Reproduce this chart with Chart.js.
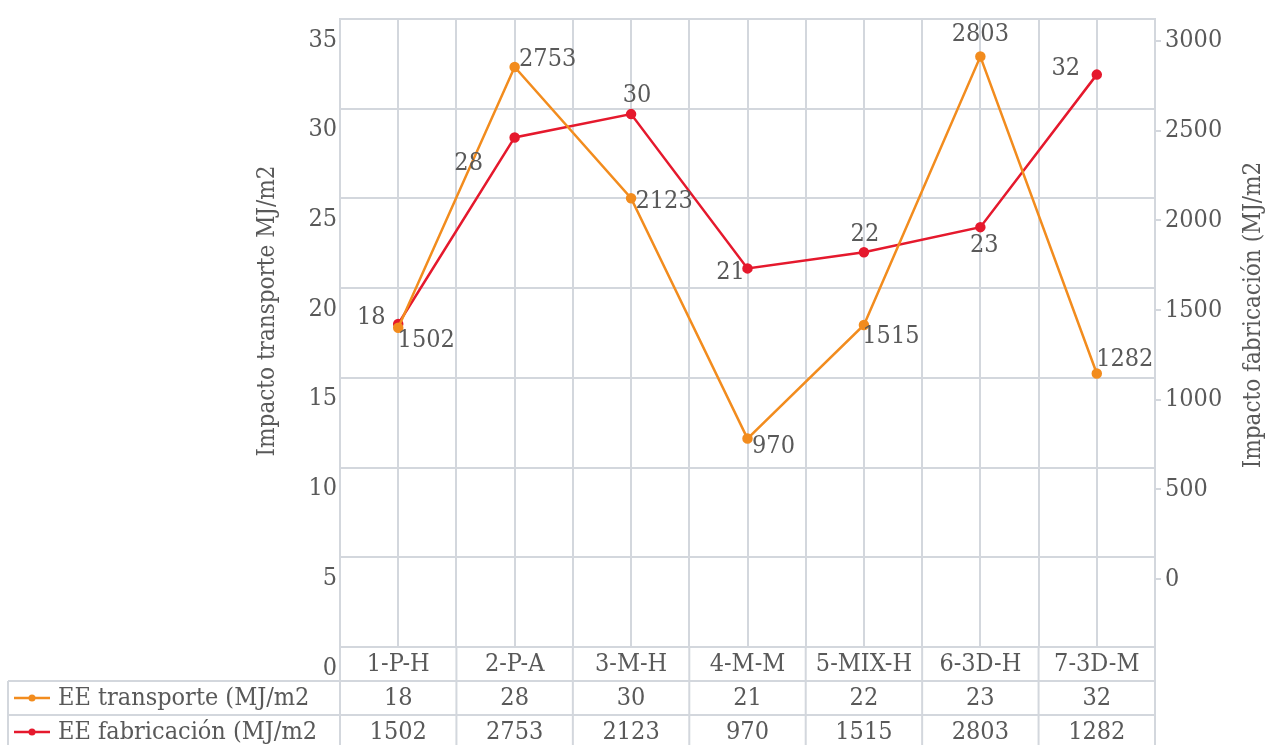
<!DOCTYPE html>
<html>
<head>
<meta charset="utf-8">
<script src="https://cdn.jsdelivr.net/npm/chart.js@4.4.1/dist/chart.umd.min.js"></script>
<style>
  html, body { margin: 0; padding: 0; background: #fff; }
  #wrap { width: 1268px; height: 745px; }
</style>
</head>
<body>
<div id="wrap"><canvas id="chart" width="1268" height="745"></canvas></div>
<script>
/* --- data --- */
const categories = ['1-P-H', '2-P-A', '3-M-H', '4-M-M', '5-MIX-H', '6-3D-H', '7-3D-M'];
const transporte = [18.0, 28.4, 29.7, 21.1, 22.0, 23.4, 31.9];
const fabricacion = [1502, 2753, 2123, 970, 1515, 2803, 1282];
const rightTicks = [0, 500, 1000, 1500, 2000, 2500, 3000];
const seriesNames = ['EE transporte (MJ/m2', 'EE fabricación (MJ/m2'];
const axisTitles = ['Impacto transporte MJ/m2', 'Impacto fabricación (MJ/m2'];

/* label placement (px from the point) */
const transLabelOffset = [[-27, -7], [-46, 26], [6, -19], [-17, 4], [1, -18], [4, 18], [-31, -6]];
const fabLabelOffset = [[28, 13], [33, -7], [33, 3], [26, 8], [27, 12], [0, -22], [28, -14]];

/* styles */
const FONT = "'DejaVu Serif Condensed', 'Liberation Serif', serif";
const FS = 25;
const TEXT = '#595959';
const GRID = '#d3d7dd';
const ORANGE = '#f28c1e';
const RED = '#e5192d';

const dataLabels = {
  id: 'dataLabels',
  afterDatasetsDraw(chart) {
    const {ctx} = chart;
    ctx.save();
    ctx.font = `${FS}px ${FONT}`;
    ctx.fillStyle = TEXT;
    ctx.textAlign = 'center';
    ctx.textBaseline = 'middle';
    chart.data.datasets.forEach((ds, di) => {
      const offs = di === 0 ? fabLabelOffset : transLabelOffset;
      chart.getDatasetMeta(di).data.forEach((pt, i) => {
        ctx.fillText(Math.round(ds.data[i]).toString(), pt.x + offs[i][0], pt.y + offs[i][1]);
      });
    });
    ctx.restore();
  }
};

const dataTable = {
  id: 'dataTable',
  afterDraw(chart) {
    const {ctx, chartArea} = chart;
    const top = chartArea.bottom;
    const rowH = 34;
    const w = (chartArea.right - chartArea.left) / categories.length;
    const bottom = chart.height;
    ctx.save();
    ctx.strokeStyle = GRID;
    ctx.lineWidth = 2;
    ctx.beginPath();
    for (let r = 1; r <= 2; r++) {
      ctx.moveTo(8, top + r * rowH);
      ctx.lineTo(chartArea.right, top + r * rowH);
    }
    for (let k = 0; k <= categories.length; k++) {
      const x = chartArea.left + k * w;
      ctx.moveTo(x, top);
      ctx.lineTo(x, bottom);
    }
    ctx.moveTo(8, top + rowH);
    ctx.lineTo(8, bottom);
    ctx.stroke();

    ctx.font = `${FS}px ${FONT}`;
    ctx.fillStyle = TEXT;
    ctx.textBaseline = 'middle';
    ctx.textAlign = 'center';
    categories.forEach((c, i) => {
      const cx = chartArea.left + (i + 0.5) * w;
      ctx.fillText(c, cx, top + rowH / 2);
      ctx.fillText(Math.round(transporte[i]).toString(), cx, top + rowH * 1.5);
      ctx.fillText(fabricacion[i].toString(), cx, top + rowH * 2.5);
    });

    // legend keys
    [ORANGE, RED].forEach((col, r) => {
      const y = top + rowH * (r + 1.5);
      ctx.strokeStyle = col;
      ctx.lineWidth = 2.5;
      ctx.beginPath();
      ctx.moveTo(14, y);
      ctx.lineTo(50, y);
      ctx.stroke();
      ctx.fillStyle = col;
      ctx.beginPath();
      ctx.arc(32, y, 3.5, 0, Math.PI * 2);
      ctx.fill();
      ctx.fillStyle = TEXT;
      ctx.textAlign = 'left';
      ctx.fillText(seriesNames[r], 58, y);
    });

    // axis titles
    ctx.font = `24px ${FONT}`;
    ctx.textAlign = 'center';
    [[268, 311], [1254, 315]].forEach((p, i) => {
      ctx.save();
      ctx.translate(p[0], p[1]);
      ctx.rotate(-Math.PI / 2);
      ctx.fillText(axisTitles[i], 0, 0);
      ctx.restore();
    });
    ctx.restore();
  }
};

new Chart(document.getElementById('chart'), {
  type: 'line',
  data: {
    labels: categories,
    datasets: [
      {
        label: seriesNames[1], data: fabricacion, yAxisID: 'yFab',
        borderColor: ORANGE, backgroundColor: ORANGE, borderWidth: 2.5,
        pointRadius: 4, pointHoverRadius: 4, tension: 0, fill: false
      },
      {
        label: seriesNames[0], data: transporte, yAxisID: 'y',
        borderColor: RED, backgroundColor: RED, borderWidth: 2.5,
        pointRadius: 4, pointHoverRadius: 4, tension: 0, fill: false
      }
    ]
  },
  options: {
    responsive: false,
    animation: false,
    devicePixelRatio: 1,
    layout: { padding: { left: 0, right: 0, top: 17, bottom: 98 } },
    plugins: { legend: { display: false }, tooltip: { enabled: false } },
    scales: {
      x: {
        offset: true,
        grid: { offset: false, color: GRID, lineWidth: 2, drawTicks: false },
        border: { display: false },
        ticks: { display: false },
        afterFit: s => { s.height = 0; }
      },
      x2: {
        position: 'bottom',
        offset: true,
        grid: { offset: true, color: GRID, lineWidth: 2, drawTicks: false },
        border: { display: false },
        ticks: { display: false },
        afterFit: s => { s.height = 0; }
      },
      y: {
        position: 'left',
        min: 0, max: 35,
        ticks: { stepSize: 5, color: TEXT, font: { family: FONT, size: FS }, padding: 3, labelOffset: 21 },
        grid: { color: GRID, lineWidth: 2, drawTicks: false },
        border: { color: GRID, width: 2 },
        afterFit: s => { s.width = 340; }
      },
      y1: {
        position: 'right',
        min: -378, max: 3122,
        afterBuildTicks: s => { s.ticks = rightTicks.map(v => ({ value: v })); },
        ticks: { color: TEXT, font: { family: FONT, size: FS }, padding: 4, callback: v => String(v) },
        grid: { drawOnChartArea: false, color: GRID, lineWidth: 2, tickLength: 6 },
        border: { color: GRID, width: 2 },
        afterFit: s => { s.width = 113; }
      },
      yFab: {
        display: false,
        min: -30, max: 2983
      }
    }
  },
  plugins: [dataLabels, dataTable]
});
</script>
</body>
</html>
